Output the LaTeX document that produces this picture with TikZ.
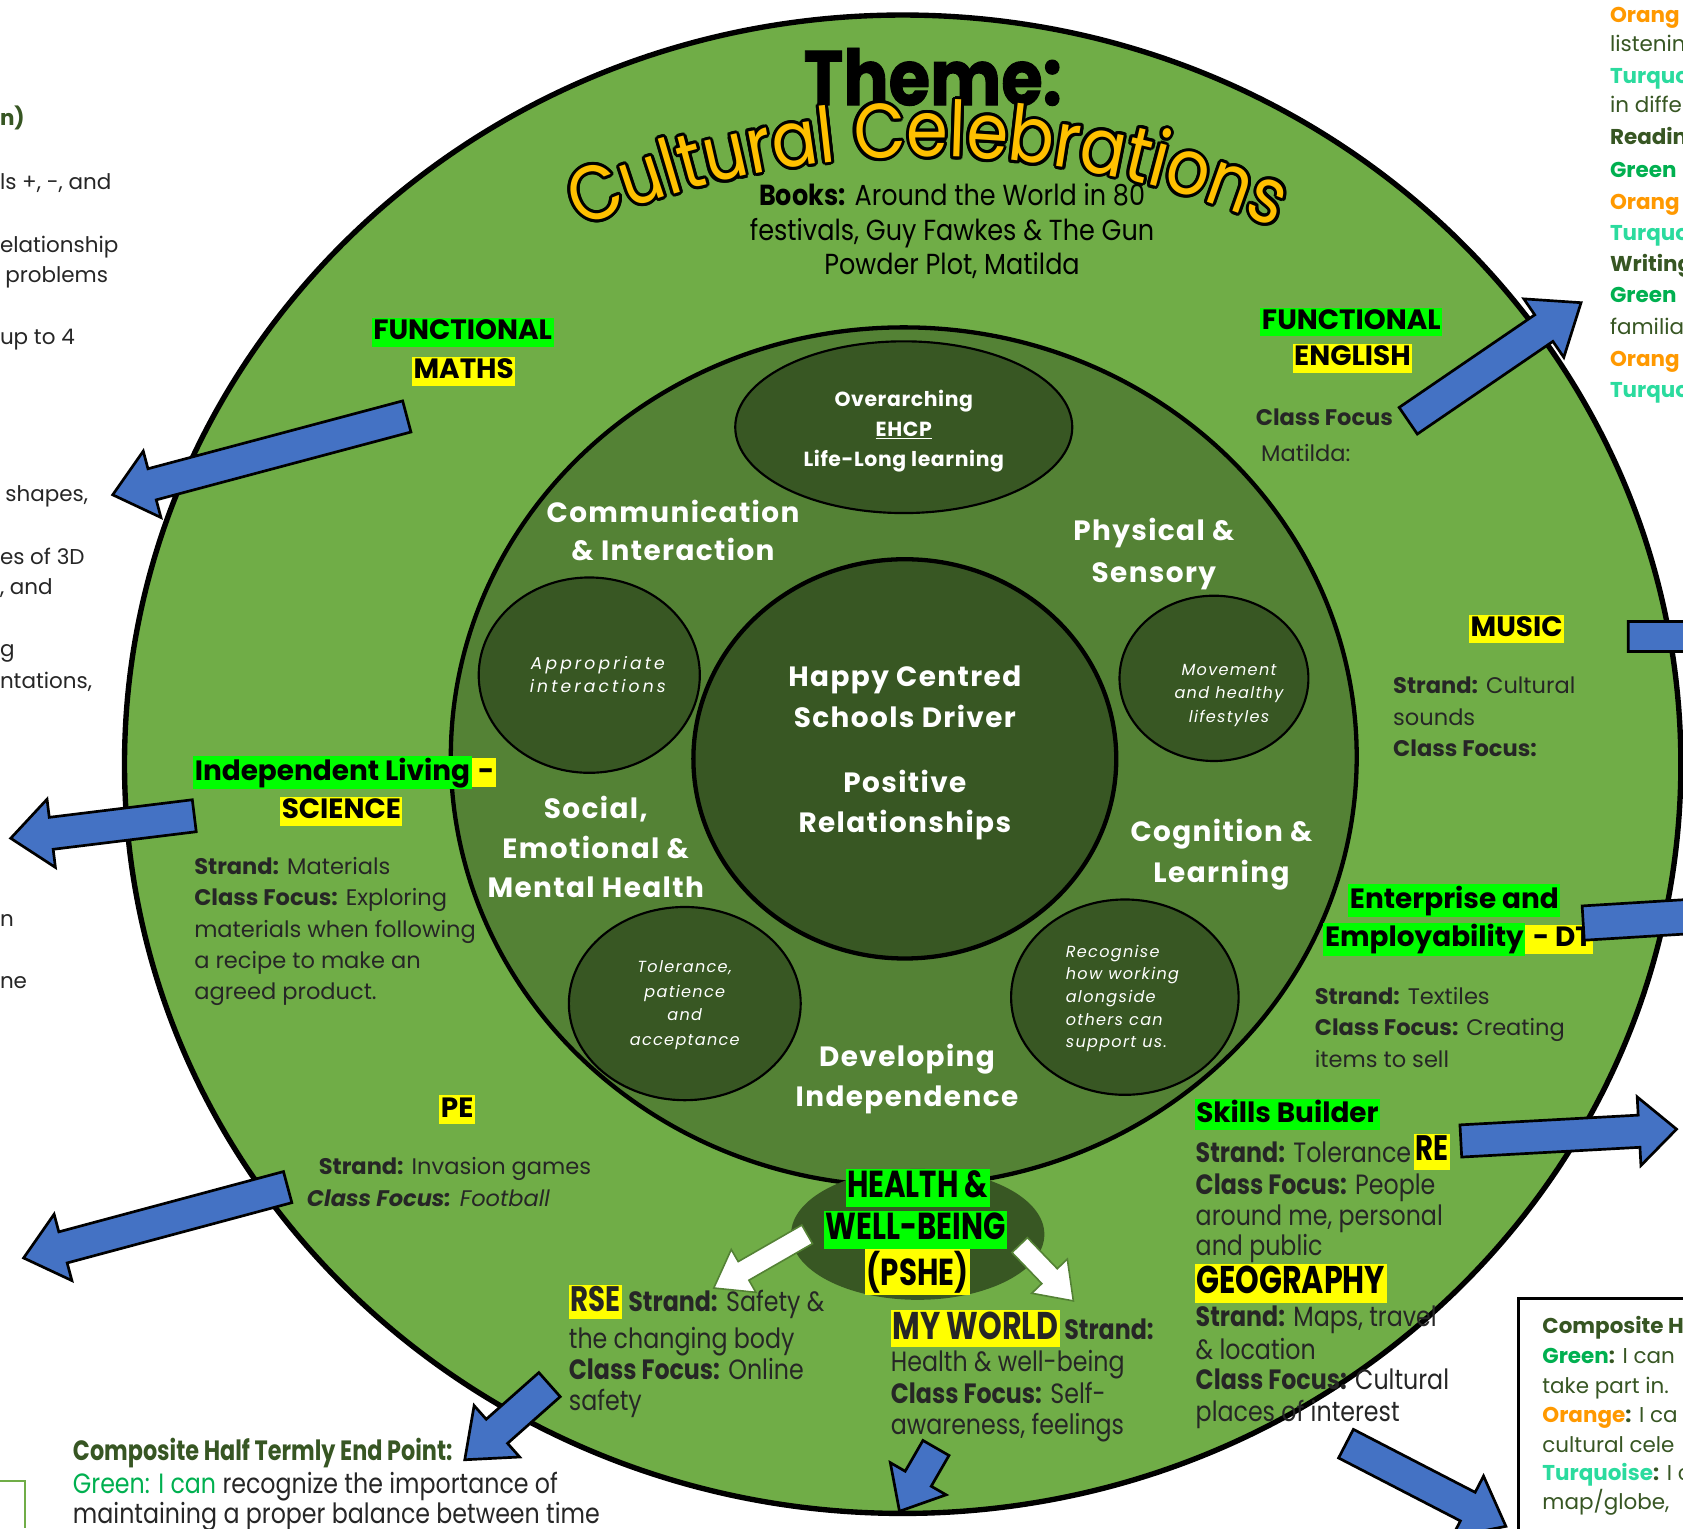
\documentclass[tikz,border=0pt]{standalone}
\usepackage{fontspec}
\usetikzlibrary{calc,decorations.text}
\setmainfont{Poppins}
\newfontfamily\cg{Poppins}
\newfontfamily\cgin[LetterSpace=5]{Poppins}
\newfontfamily\cgov[LetterSpace=3]{Poppins}
\newfontfamily\cgsp[LetterSpace=8]{Poppins}
\newfontfamily\cgspw[LetterSpace=18]{Poppins}
\newfontfamily\tw[FakeStretch=0.85]{Poppins}
\newfontfamily\twc[FakeStretch=0.8]{Poppins}
\newfontfamily\twb[FakeStretch=0.88]{Poppins}
\newfontfamily\tcond[FakeStretch=0.78]{Poppins}
\newfontfamily\titlefont[FakeStretch=0.87]{Poppins}
\newfontfamily\themefont[FakeStretch=0.87,FakeBold=1.2]{Poppins}
\definecolor{outergreen}{HTML}{70AD47}
\definecolor{midgreen}{HTML}{548235}
\definecolor{darkgreen}{HTML}{385723}
\definecolor{arrowblue}{HTML}{4472C4}
\definecolor{hlgreen}{HTML}{00FF00}
\definecolor{hlyellow}{HTML}{FFFF00}
\definecolor{titleyellow}{HTML}{FFC000}
\definecolor{txtdark}{HTML}{262626}
\definecolor{olive}{HTML}{375623}
\definecolor{lblgreen}{HTML}{00B050}
\definecolor{lblorange}{HTML}{FF9900}
\definecolor{lblturq}{HTML}{2BDB9E}
\newcommand\fsz[1]{\fontsize{#1}{#1}\selectfont}
\newcommand\hbx[2]{{\setlength\fboxsep{1.5pt}\colorbox{#1}{\rule[-0.2em]{0pt}{0.92em}#2}}}
\newcommand\barrow[6]{%
  \coordinate (#2h) at ($(#3)!#6!(#2)$);
  \draw[#1] ($(#2)!#4!90:(#3)$) -- ($(#2h)!#4!-90:(#2)$) -- ($(#2h)!#5!-90:(#2)$) -- (#3)
    -- ($(#2h)!#5!90:(#2)$) -- ($(#2h)!#4!90:(#2)$) -- ($(#2)!#4!-90:(#3)$) -- cycle;}
\tikzset{
  every node/.style={inner sep=0pt, outer sep=0pt},
  body/.style={anchor=base west, text=txtdark, font=\cg\fsz{21}},
  bodyc/.style={anchor=base west, text=txtdark, font=\tw\fsz{26}},
  lab/.style={anchor=center, text=black, font=\cg\bfseries\fsz{26}},
  labc/.style={anchor=center, text=black, font=\tcond\bfseries\fsz{35}},
  inner/.style={anchor=base, text=white, font=\cgin\bfseries\fsz{26}},
  small/.style={anchor=base, text=white, font=\cgov\bfseries\fsz{19}},
  ital/.style={anchor=base, text=white, font=\cgsp\itshape\fsz{15}},
  side/.style={anchor=base west, text=txtdark, font=\cg\fsz{20}},
  blue arrow/.style={fill=arrowblue, draw=black, line width=2.5pt, line join=miter},
  white arrow/.style={fill=white, draw=midgreen, line width=1.5pt, line join=miter},
  ring/.style={draw=black, line width=5pt},
}
\begin{document}
\begin{tikzpicture}[x=1pt,y=-1pt]
\useasboundingbox (0,0) rectangle (1568,1424);
\fill[white] (0,0) rectangle (1568,1424);
% ---- circles ----
\coordinate (oc) at (841,712);
\draw[ring, fill=outergreen] (oc) ellipse[x radius=725, y radius=698];
\coordinate (mc) at (842,705);
\draw[draw=black, line width=4pt, fill=midgreen] (mc) ellipse[x radius=422, y radius=400];
\coordinate (cc) at (843,707);
\draw[draw=black, line width=4pt, fill=darkgreen] (cc) ellipse[x radius=197, y radius=186];
\draw[draw=black, line width=2pt, fill=darkgreen] (842,398) ellipse[x radius=157, y radius=80];
\draw[draw=black, line width=2pt, fill=darkgreen] (549,629) ellipse[x radius=103, y radius=91];
\draw[draw=black, line width=2pt, fill=darkgreen] (1131,632) ellipse[x radius=88, y radius=77];
\draw[draw=black, line width=2pt, fill=darkgreen] (638,935) ellipse[x radius=108, y radius=90];
\draw[draw=black, line width=2pt, fill=darkgreen] (1048,929) ellipse[x radius=106, y radius=91];
\fill[darkgreen] (855,1150) ellipse[x radius=118, y radius=61];
% ---- title ----
\node[anchor=base, font=\themefont\bfseries\fsz{72}, text=black] (theme) at (869,98) {Theme:};
\coordinate (arcstart) at (517,223);
\foreach \a in {0,22.5,...,337.5}{
  \path[decorate, decoration={text along path, text align=center,
    text={|\titlefont\fsz{72}\color{black}|Cultural Celebrations}}]
    ($(arcstart)+(\a:2.8pt)$) arc[start angle=-115, end angle=-65, radius=822];
}
\path[decorate, decoration={text along path, text align=center,
    text={|\titlefont\fsz{72}\color{titleyellow}|Cultural Celebrations}}]
    (arcstart) arc[start angle=-115, end angle=-65, radius=822];
\node[anchor=base, font=\twb\fsz{27}, text=black] (books1) at (887,191) {\textbf{Books:} Around the World in 80};
\node[anchor=base, font=\twb\fsz{27}, text=black] (books2) at (887,224) {festivals, Guy Fawkes \& The Gun};
\node[anchor=base, font=\twb\fsz{27}, text=black] (books3) at (887,256) {Powder Plot, Matilda};
% ---- inner texts ----
\node[small] (ov1) at (842,379) {Overarching};
\node[small] (ov2) at (842,407) {\underline{EHCP}};
\node[small] (ov3) at (842,435) {Life-Long learning};
\node[inner] (ci1) at (627,487) {Communication};
\node[inner] (ci2) at (627,522) {\& Interaction};
\node[inner] (ps1) at (1075,504) {Physical \&};
\node[inner] (ps2) at (1075,543) {Sensory};
\node[inner] (hc1) at (843,640) {Happy Centred};
\node[inner] (hc2) at (843,678) {Schools Driver};
\node[inner] (hc3) at (843,738) {Positive};
\node[inner] (hc4) at (843,776) {Relationships};
\node[inner] (se1) at (555,763) {Social,};
\node[inner] (se2) at (555,800) {Emotional \&};
\node[inner] (se3) at (555,836) {Mental Health};
\node[inner] (cl1) at (1138,784) {Cognition \&};
\node[inner] (cl2) at (1138,822) {Learning};
\node[inner] (di1) at (845,994) {Developing};
\node[inner] (di2) at (845,1031) {Independence};
\node[ital, font=\cgspw\itshape\fsz{16}] (ap1) at (557,624) {Appropriate};
\node[ital, font=\cgspw\itshape\fsz{16}] (ap2) at (557,645) {interactions};
\node[ital] (mv1) at (1145,629) {Movement};
\node[ital] (mv2) at (1145,651) {and healthy};
\node[ital] (mv3) at (1145,673) {lifestyles};
\node[ital] (tp1) at (638,906) {Tolerance,};
\node[ital] (tp2) at (638,929) {patience};
\node[ital] (tp3) at (638,951) {and};
\node[ital] (tp4) at (638,974) {acceptance};
\node[ital, anchor=base west] (rw1) at (993,892) {Recognise};
\node[ital, anchor=base west] (rw2) at (993,913) {how working};
\node[ital, anchor=base west] (rw3) at (993,934) {alongside};
\node[ital, anchor=base west] (rw4) at (993,955) {others can};
\node[ital, anchor=base west] (rw5) at (993,976) {support us.};
% ---- outer ring texts ----
\node[lab] (fm1) at (431,310) {\hbx{hlgreen}{FUNCTIONAL}};
\node[lab] (fm2) at (432,346) {\hbx{hlyellow}{MATHS}};
\node[lab, anchor=west] (il1) at (180,720) {\hbx{hlgreen}{Independent Living}\hbx{hlyellow}{\,-}};
\node[lab] (il2) at (318,756) {\hbx{hlyellow}{SCIENCE}};
\node[body] (sc1) at (181,815) {\textbf{Strand:} Materials};
\node[body] (sc2) at (181,844) {\textbf{Class Focus:} Exploring};
\node[body] (sc3) at (181,873) {materials when following};
\node[body] (sc4) at (181,902) {a recipe to make an};
\node[body] (sc5) at (181,931) {agreed product.};
\node[lab] (pe) at (426,1034) {\hbx{hlyellow}{PE}};
\node[body] (pe1) at (297,1094) {\textbf{Strand:} Invasion games};
\node[body] (pe2) at (286,1124) {\itshape\textbf{Class Focus:} Football};
\node[bodyc] (rse1) at (530,1222) {\hbx{hlyellow}{\bfseries\tcond\fsz{33}RSE} \textbf{Strand:} Safety \&};
\node[bodyc] (rse2) at (530,1256) {the changing body};
\node[bodyc] (rse3) at (530,1285) {\textbf{Class Focus:} Online};
\node[bodyc] (rse4) at (530,1314) {safety};
\node[labc] (hw1) at (855,1107) {\hbx{hlgreen}{HEALTH \&}};
\node[labc] (hw2) at (853,1146) {\hbx{hlgreen}{WELL-BEING}};
\node[labc] (hw3) at (855,1185) {\hbx{hlyellow}{(PSHE)}};
\node[bodyc] (mw1) at (830,1248) {\hbx{hlyellow}{\bfseries\tcond\fsz{36}MY WORLD}\,\textbf{Strand:}};
\node[bodyc] (mw2) at (830,1278) {Health \& well-being};
\node[bodyc] (mw3) at (830,1308) {\textbf{Class Focus:} Self-};
\node[bodyc] (mw4) at (830,1336) {awareness, feelings};
\node[lab, anchor=west] (sb) at (1113,1038) {\hbx{hlgreen}{Skills Builder}};
\node[bodyc] (sb1) at (1114,1083) {\textbf{Strand:} Tolerance};
\node[lab, font=\tcond\bfseries\fsz{33}] (re) at (1334,1073) {\hbx{hlyellow}{RE}};
\node[bodyc] (sb2) at (1114,1113) {\textbf{Class Focus:} People};
\node[bodyc] (sb3) at (1114,1142) {around me, personal};
\node[bodyc] (sb4) at (1114,1170) {and public};
\node[lab, anchor=west, font=\tcond\bfseries\fsz{36}] (geo) at (1113,1196) {\hbx{hlyellow}{GEOGRAPHY}};
\node[bodyc] (ge1) at (1114,1236) {\textbf{Strand:} Maps, travel};
\node[bodyc] (ge2) at (1114,1267) {\& location};
\node[bodyc] (ge3) at (1114,1295) {\textbf{Class Focus:} Cultural};
\node[bodyc] (ge4) at (1114,1324) {places of interest};
\node[lab] (en1) at (1355,839) {\hbx{hlgreen}{Enterprise and}};
\node[lab, anchor=west] (en2) at (1233,875) {\hbx{hlgreen}{Employability}\hbx{hlyellow}{ - DT}};
\node[body] (dt1) at (1225,936) {\textbf{Strand:} Textiles};
\node[body] (dt2) at (1225,965) {\textbf{Class Focus:} Creating};
\node[body] (dt3) at (1225,995) {items to sell};
\node[lab] (mu) at (1413,586) {\hbx{hlyellow}{MUSIC}};
\node[body] (mu1) at (1298,646) {\textbf{Strand:} Cultural};
\node[body] (mu2) at (1298,676) {sounds};
\node[body] (mu3) at (1298,705) {\textbf{Class Focus:}};
\node[lab] (fe1) at (1259,300) {\hbx{hlgreen}{FUNCTIONAL}};
\node[lab] (fe2) at (1260,334) {\hbx{hlyellow}{ENGLISH}};
\node[body] (fe3) at (1170,396) {\textbf{Class Focus}};
\node[body] (fe4) at (1175,430) {Matilda:};
% ---- left fragments ----
\node[side, text=olive] (l1) at (0,117) {\textbf{n)}};
\node[side] (l2) at (0,177) {ls +, -, and};
\node[side] (l3) at (0,235) {elationship};
\node[side] (l4) at (5,263) {problems};
\node[side] (l5) at (0,321) {up to 4};
\node[side] (l6) at (5,467) {shapes,};
\node[side] (l7) at (0,526) {es of 3D};
\node[side] (l8) at (0,554) {, and};
\node[side] (l9) at (0,612) {g};
\node[side] (l10) at (0,641) {ntations,};
\node[side] (l11) at (0,863) {n};
\node[side] (l12) at (0,921) {ne};
% ---- right fragments ----
\node[side, text=lblorange] (r1) at (1500,21) {\textbf{Orang}};
\node[side, text=olive] (r2) at (1500,48) {listenin};
\node[side, text=lblturq] (r3) at (1500,78) {\textbf{Turquo}};
\node[side, text=olive] (r4) at (1500,105) {in diffe};
\node[side, text=olive] (r5) at (1500,135) {\textbf{Readin}};
\node[side, text=lblgreen] (r6) at (1500,165) {\textbf{Green}};
\node[side, text=lblorange] (r7) at (1500,195) {\textbf{Orang}};
\node[side, text=lblturq] (r8) at (1500,224) {\textbf{Turquo}};
\node[side, text=olive] (r9) at (1500,253) {\textbf{Writing}};
\node[side, text=lblgreen] (r10) at (1500,282) {\textbf{Green}};
\node[side, text=olive] (r11) at (1500,312) {familia};
\node[side, text=lblorange] (r12) at (1500,341) {\textbf{Orang}};
\node[side, text=lblturq] (r13) at (1500,370) {\textbf{Turquo}};
% ---- bottom left ----
\draw[outergreen, line width=2pt] (0,1380) -- (23,1380) -- (23,1424);
\node[bodyc, font=\twc\fsz{26}, text=olive] (cp1) at (68,1361) {\textbf{Composite Half Termly End Point:}};
\node[bodyc] (cp2) at (68,1391) {\textcolor{lblgreen}{Green: I can} recognize the importance of};
\node[bodyc] (cp3) at (68,1419) {maintaining a proper balance between time};
% ---- bottom right box ----
\draw[black, line width=2.5pt] (1600,1210) -- (1415,1210) -- (1415,1440);
\node[side, text=olive] (br1) at (1437,1242) {\textbf{Composite H}};
\node[side, text=olive] (br2) at (1437,1270) {\textcolor{lblgreen}{\textbf{Green}}\textbf{:} I can};
\node[side, text=olive] (br3) at (1437,1298) {take part in.};
\node[side, text=olive] (br4) at (1437,1325) {\textcolor{lblorange}{\textbf{Orange}}\textbf{:} I ca};
\node[side, text=olive] (br5) at (1437,1353) {cultural cele};
\node[side, text=olive] (br6) at (1437,1379) {\textcolor{lblturq}{\textbf{Turquoise}}\textbf{:} I c};
\node[side, text=olive] (br7) at (1437,1406) {map/globe,};
% ---- arrows ----
\coordinate (mathsT) at (379,388);   \coordinate (mathsP) at (105,461);
\coordinate (sciT) at (181,760);     \coordinate (sciP) at (10,781);
\coordinate (peT) at (268,1106);     \coordinate (peP) at (22,1172);
\coordinate (rseT) at (512,1290);    \coordinate (rseP) at (433,1360);
\coordinate (mwT) at (872,1349);     \coordinate (mwP) at (838,1408);
\coordinate (reT) at (1361,1063);    \coordinate (reP) at (1562,1052);
\coordinate (geoT) at (1254,1345);   \coordinate (geoP) at (1403,1422);
\coordinate (dtT) at (1475,860);     \coordinate (dtP) at (1720,845);
\coordinate (muT) at (1517,593);     \coordinate (muP) at (1720,593);
\coordinate (enT) at (1312,392);     \coordinate (enP) at (1473,282);
\barrow{blue arrow}{mathsT}{mathsP}{15pt}{32pt}{38pt}
\barrow{blue arrow}{sciT}{sciP}{15pt}{32pt}{38pt}
\barrow{blue arrow}{peT}{peP}{15pt}{32pt}{38pt}
\barrow{blue arrow}{rseT}{rseP}{15pt}{32pt}{40pt}
\barrow{blue arrow}{mwT}{mwP}{14pt}{30pt}{35pt}
\barrow{blue arrow}{reT}{reP}{15pt}{32pt}{35pt}
\barrow{blue arrow}{geoT}{geoP}{15pt}{32pt}{40pt}
\barrow{blue arrow}{dtT}{dtP}{16pt}{34pt}{40pt}
\barrow{blue arrow}{muT}{muP}{14pt}{32pt}{40pt}
\barrow{blue arrow}{enT}{enP}{15pt}{33pt}{42pt}
\coordinate (w1T) at (752,1150);  \coordinate (w1P) at (665,1200);
\coordinate (w2T) at (950,1160);  \coordinate (w2P) at (1000,1212);
\barrow{white arrow}{w1T}{w1P}{10pt}{23pt}{32pt}
\barrow{white arrow}{w2T}{w2P}{10pt}{23pt}{32pt}
\end{tikzpicture}
\end{document}
